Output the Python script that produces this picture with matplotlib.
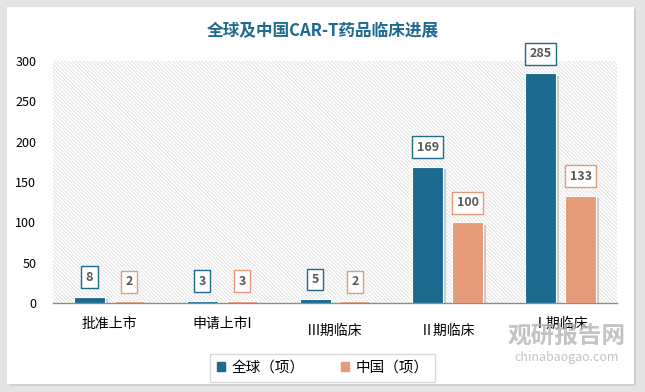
import matplotlib.pyplot as plt
import matplotlib.patheffects as pe
from matplotlib.patches import Rectangle, Patch
import numpy as np

plt.rcParams['font.family'] = ['Noto Sans CJK SC', 'DejaVu Sans']
plt.rcParams['hatch.linewidth'] = 0.5

# 数据
categories = ['批准上市', '申请上市I', 'Ⅲ期临床', 'Ⅱ期临床', 'Ⅰ期临床']
global_cnt = [8, 3, 5, 169, 285]
china_cnt = [2, 3, 2, 100, 133]
series_names = ['全球（项）', '中国（项）']
colors = ['#1c6a8e', '#e59a7a']

fig = plt.figure(figsize=(6.45, 3.92), dpi=100, facecolor='#e4e4e4')

# 白色卡片背景
fig.patches.append(Rectangle((9 / 645, 6 / 392), 627 / 645, 377 / 392,
                             transform=fig.transFigure, facecolor='#d0d0d0',
                             edgecolor='none', zorder=-2))
fig.patches.append(Rectangle((7 / 645, 8 / 392), 627 / 645, 377 / 392,
                             transform=fig.transFigure, facecolor='white',
                             edgecolor='none', zorder=-1))

ax = fig.add_axes([53 / 645, 1 - 303 / 392, 564 / 645, 242 / 392])
ax.set_facecolor('none')
ax.add_patch(Rectangle((0, 0), 1, 1, transform=ax.transAxes, facecolor='white',
                       edgecolor='#d6d6d6', linewidth=0, hatch='\\' * 9, zorder=0))

x = np.arange(len(categories))
w = 0.275
off = 0.177
shadow = [pe.SimplePatchShadow(offset=(2, -2), shadow_rgbFace='#b0b0b0', alpha=0.6), pe.Normal()]
b1 = ax.bar(x - off, global_cnt, w, color=colors[0], edgecolor='white', linewidth=0.8,
            zorder=3, path_effects=shadow)
b2 = ax.bar(x + off, china_cnt, w, color=colors[1], edgecolor='white', linewidth=0.8,
            zorder=3, path_effects=shadow)

# 数据标签
for bars, vals, c in [(b1, global_cnt, colors[0]), (b2, china_cnt, colors[1])]:
    for rect, v in zip(bars, vals):
        ax.annotate(str(v), (rect.get_x() + rect.get_width() / 2, v),
                    xytext=(0, 14), textcoords='offset points', ha='center', va='center',
                    fontsize=9, fontweight='bold', color='#595959', zorder=5,
                    bbox=dict(boxstyle='square,pad=0.35', fc='white', ec=c, lw=1))

ax.set_xlim(-0.5, len(categories) - 0.5)
ax.set_ylim(0, 300)
ax.set_yticks(range(0, 301, 50))
ax.tick_params(axis='y', length=0, labelsize=9, pad=12)
ax.tick_params(axis='x', length=0, labelsize=10, pad=10)
ax.set_xticks(x)
ax.set_xticklabels(categories)
for lab in ax.get_xticklabels()[2:4]:
    lab.set_y(-0.03)
for s in ['top', 'right', 'left']:
    ax.spines[s].set_visible(False)
ax.spines['bottom'].set_color('#8c8c8c')
ax.spines['bottom'].set_linewidth(1)

fig.text(0.5, 1 - 31 / 392, '全球及中国CAR-T药品临床进展', ha='center', va='center',
         fontsize=12, fontweight='bold', color='#1c6a8e')

handles = [Patch(color=colors[0]), Patch(color=colors[1])]
leg = fig.legend(handles=handles, labels=series_names, loc='center',
                 bbox_to_anchor=(0.5, 1 - 368 / 392), ncol=2, frameon=True,
                 fontsize=10.5, handlelength=0.6, handleheight=0.6, columnspacing=2.5,
                 handletextpad=0.4, fancybox=False, borderpad=0.45)
leg.get_frame().set_edgecolor('#d0d0d0')
leg.get_frame().set_linewidth(1)

# 水印
fig.text(567 / 645, 1 - 336 / 392, '观研报告网', ha='center', va='center', fontsize=17,
         fontweight='bold', color='#b5b5b5', alpha=0.8, zorder=10)
fig.text(567 / 645, 1 - 358 / 392, 'chinabaogao.com', ha='center', va='center', fontsize=9,
         color='#b5b5b5', alpha=0.8, zorder=10)

plt.savefig('out.png', dpi=100, facecolor=fig.get_facecolor())
